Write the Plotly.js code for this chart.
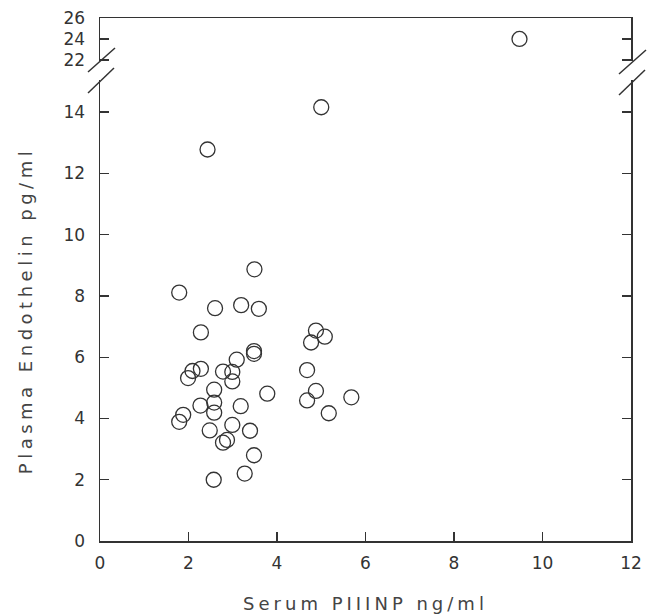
<!DOCTYPE html>
<html>
<head>
<meta charset="utf-8">
<script src="https://cdn.plot.ly/plotly-3.0.1.min.js"></script>
<style>html,body{margin:0;padding:0;background:#fff;}#chart{width:657px;height:616px;}</style>
</head>
<body>
<div id="chart"></div>
<script>
// Serum PIIINP (ng/ml)
const piiinp = [1.79, 2.60, 3.19, 3.59, 3.49, 2.28, 4.88, 5.08, 4.77, 3.48, 3.48, 3.09, 2.28, 2.09, 1.99,
  2.78, 2.99, 2.99, 4.68, 2.58, 3.78, 4.88, 4.68, 5.68, 5.17, 2.27, 2.58, 2.58, 3.18, 1.88, 1.79, 2.48,
  2.99, 3.39, 2.87, 2.78, 3.48, 3.27, 2.57, 2.43, 5.00, 9.48];
// Plasma endothelin (pg/ml)
const endothelin = [8.11, 7.60, 7.70, 7.58, 8.87, 6.81, 6.87, 6.67, 6.48, 6.20, 6.11, 5.92, 5.62, 5.55, 5.32,
  5.53, 5.52, 5.21, 5.58, 4.94, 4.81, 4.90, 4.59, 4.69, 4.17, 4.42, 4.52, 4.19, 4.40, 4.12, 3.89, 3.61,
  3.79, 3.60, 3.30, 3.21, 2.80, 2.20, 2.00, 12.78, 14.16, 24.0];
const xTicks = [0, 2, 4, 6, 8, 10, 12];
const yLowTicks = [0, 2, 4, 6, 8, 10, 12, 14];
const yHighTicks = [22, 24, 26];
const breakValue = 18;

const lowX = [], lowY = [], highX = [], highY = [];
piiinp.forEach((x, i) => {
  if (endothelin[i] < breakValue) { lowX.push(x); lowY.push(endothelin[i]); }
  else { highX.push(x); highY.push(endothelin[i]); }
});

const marker = {symbol: 'circle-open', size: 15, color: '#333', line: {width: 1.3, color: '#333'}};
const traces = [
  {x: lowX, y: lowY, type: 'scatter', mode: 'markers', marker: marker, xaxis: 'x', yaxis: 'y', hoverinfo: 'x+y'},
  {x: highX, y: highY, type: 'scatter', mode: 'markers', marker: marker, xaxis: 'x2', yaxis: 'y2', hoverinfo: 'x+y'}
];

const W = 531, H = 523, L = 100, B = 541;
const px = (v) => (v - L) / W;
const py = (v) => (B - v) / H;
const slash = (x0, y0, x1, y1) => ({type: 'line', xref: 'paper', yref: 'paper',
  x0: px(x0), y0: py(y0), x1: px(x1), y1: py(y1), line: {color: '#333', width: 1.5}});

const FONT = 'DejaVu Sans, Verdana, sans-serif';
const spaced = (s, ls) => '<span style="letter-spacing:' + ls + 'px">' + s + '</span>';
const tickFont = {family: FONT, size: 17, color: '#333'};
const titleFont = {family: FONT, size: 18, color: '#444'};
const axisCommon = {showgrid: false, zeroline: false, showline: true, linecolor: '#333', linewidth: 1.5,
  ticks: 'inside', ticklen: 9, tickwidth: 1.3, tickcolor: '#333', tickfont: tickFont};

const layout = {
  width: 657, height: 616,
  margin: {l: 100, r: 26, t: 18, b: 75},
  paper_bgcolor: '#fff', plot_bgcolor: '#fff',
  showlegend: false,
  xaxis: Object.assign({}, axisCommon, {range: [0, 12], tickvals: xTicks, ticktext: xTicks.map(String),
    anchor: 'y', domain: [0, 1], ticklabelstandoff: 6,
    title: {text: spaced('Serum PIIINP ng/ml', 4), font: titleFont, standoff: 25}}),
  xaxis2: Object.assign({}, axisCommon, {range: [0, 12], matches: 'x', anchor: 'y2', side: 'top',
    ticks: '', showticklabels: false}),
  yaxis: Object.assign({}, axisCommon, {range: [0, 15.05], domain: [0, 0.8815], tickvals: yLowTicks,
    ticktext: yLowTicks.map(String), mirror: 'ticks', anchor: 'x', ticklabelstandoff: 10,
    title: {text: spaced('Plasma Endothelin pg/ml', 4.5), font: titleFont, standoff: 26}}),
  yaxis2: Object.assign({}, axisCommon, {range: [21.9, 26], domain: [0.9178, 1], tickvals: yHighTicks,
    ticktext: yHighTicks.map(String), mirror: 'ticks', anchor: 'x2', ticklabelstandoff: 10}),
  shapes: [
    slash(88, 72, 115, 48), slash(88, 93, 114, 68),
    slash(619, 74, 646, 50), slash(619, 95, 645, 70)
  ]
};

Plotly.newPlot('chart', traces, layout, {displayModeBar: false, staticPlot: true});
</script>
</body>
</html>
